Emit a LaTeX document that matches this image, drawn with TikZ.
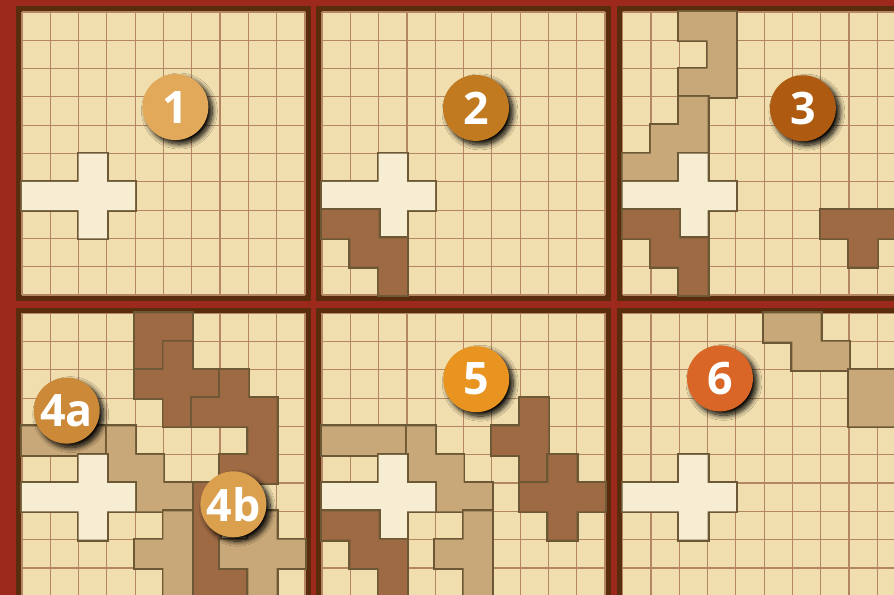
\documentclass[tikz,border=0pt]{standalone}
\usepackage{fontspec}
\setsansfont{Open Sans}
\usepackage{xcolor}
\usetikzlibrary{shadows,shadows.blur}

\definecolor{boardred}{RGB}{157,41,29}
\definecolor{framebrown}{RGB}{88,44,12}
\definecolor{cellsand}{RGB}{241,222,174}
\definecolor{gridtan}{RGB}{180,134,98}
\definecolor{crosscream}{RGB}{247,237,211}
\definecolor{piecedark}{RGB}{157,106,68}
\definecolor{piecetan}{RGB}{200,168,120}
\definecolor{pieceline}{RGB}{108,88,52}
\definecolor{badgeone}{RGB}{226,169,91}
\definecolor{badgetwo}{RGB}{193,122,31}
\definecolor{badgethree}{RGB}{174,91,17}
\definecolor{badgefoura}{RGB}{204,138,56}
\definecolor{badgefourb}{RGB}{219,160,78}
\definecolor{badgefive}{RGB}{233,148,33}
\definecolor{badgesix}{RGB}{217,101,38}

\tikzset{
  gridline/.style={gridtan, line width=1.2pt},
  pieceedge/.style={draw=pieceline, line width=4pt, line join=miter},
  badge/.style={circle, minimum size=2.33cm, inner sep=0pt, text=white,
    font=\sffamily\bfseries\fontsize{45}{45}\selectfont,
    blur shadow={shadow xshift=4pt, shadow yshift=-4pt,
      shadow blur radius=5pt, shadow blur steps=12, shadow opacity=100}}
}

% one 10x10 board, frame included
\newcommand{\board}{%
  \fill[framebrown] (-0.2,-0.2) rectangle (10.2,10.2);
  \fill[cellsand] (0,0) rectangle (10,10);
  \foreach \i in {0,...,10} {
    \draw[gridline] (\i,0) -- (\i,10);
    \draw[gridline] (0,\i) -- (10,\i);
  }}
% a piece given as row/col cells
\newcommand{\piece}[2]{%
  \draw[pieceedge] \foreach \r/\c in {#2} {(\c,\r) rectangle ++(1,1)};
  \fill[#1] \foreach \r/\c in {#2} {(\c,\r) rectangle ++(1,1)};}
\newcommand{\crosspiece}{\piece{crosscream}{5/2,6/0,6/1,6/2,6/3,7/2}}

\begin{document}
\begin{tikzpicture}[x=1cm, y=-1cm]

\useasboundingbox (0,0) rectangle (31.59,21.02);
\clip (0,0) rectangle (31.59,21.02);

% Background
\fill[boardred] (0,0) rectangle (31.59,21.02);

% Board 1
\begin{scope}[shift={(0.777,0.424)}]
  \board
  \crosspiece
  \node[badge, fill=badgeone] (b1) at (5.42,3.36) {1};
\end{scope}

% Board 2
\begin{scope}[shift={(11.378,0.424)}]
  \board
  \crosspiece
  \piece{piecedark}{7/0,7/1,8/1,8/2,9/2}
  \node[badge, fill=badgetwo] (b2) at (5.44,3.39) {2};
\end{scope}

% Board 3
\begin{scope}[shift={(22.0,0.424)}]
  \board
  \piece{piecetan}{0/2,0/3,1/3,2/2,2/3}
  \piece{piecetan}{3/2,4/1,4/2,5/0,5/1}
  \crosspiece
  \piece{piecedark}{7/0,7/1,8/1,8/2,9/2}
  \piece{piecedark}{7/7,7/8,7/9,8/8}
  \node[badge, fill=badgethree] (b3) at (6.37,3.40) {3};
\end{scope}

% Board 4
\begin{scope}[shift={(0.777,11.07)}]
  \board
  \piece{piecedark}{0/4,0/5,1/4}
  \piece{piecedark}{1/5,2/4,2/5,2/6,3/5}
  \piece{piecedark}{2/7,3/6,3/7,3/8,4/8,5/7,5/8,6/7}
  \piece{piecedark}{6/6,7/6,8/6,9/6,9/7}
  \piece{piecetan}{4/0,4/1,4/2}
  \piece{piecetan}{4/3,5/3,5/4,6/4,6/5}
  \piece{piecetan}{7/5,8/4,8/5,9/5}
  \piece{piecetan}{7/8,8/7,8/8,8/9,9/8}
  \crosspiece
  \node[badge, fill=badgefoura] (b4a) at (1.58,3.44) {4a};
  \node[badge, fill=badgefourb] (b4b) at (7.47,6.75) {4b};
\end{scope}

% Board 5
\begin{scope}[shift={(11.378,11.07)}]
  \board
  \piece{piecetan}{4/0,4/1,4/2}
  \piece{piecetan}{4/3,5/3,5/4,6/4,6/5}
  \piece{piecetan}{7/5,8/4,8/5,9/5}
  \piece{piecedark}{3/7,4/6,4/7,5/7}
  \piece{piecedark}{5/8,6/7,6/8,6/9,7/8}
  \crosspiece
  \piece{piecedark}{7/0,7/1,8/1,8/2,9/2}
  \node[badge, fill=badgefive] (b5) at (5.45,2.33) {5};
\end{scope}

% Board 6
\begin{scope}[shift={(22.0,11.07)}]
  \board
  \piece{piecetan}{0/5,0/6,1/6,1/7}
  \piece{piecetan}{2/8,2/9,3/8,3/9}
  \crosspiece
  \node[badge, fill=badgesix] (b6) at (3.44,2.30) {6};
\end{scope}

\end{tikzpicture}
\end{document}
